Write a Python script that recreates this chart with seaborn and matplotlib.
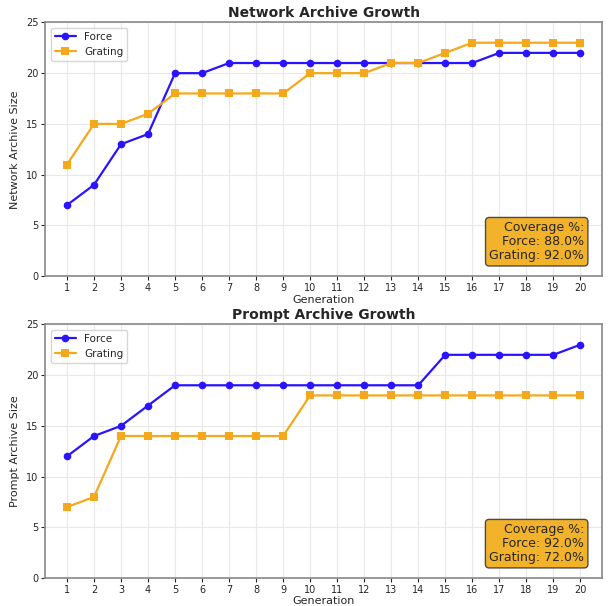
import matplotlib
matplotlib.use("Agg")
import matplotlib.pyplot as plt
import seaborn as sns
import pandas as pd

sns.set_style("whitegrid")
plt.rcParams['font.family'] = ['DejaVu Sans']

generations = list(range(1, 21))
net_force = [7, 9, 13, 14, 20, 20, 21, 21, 21, 21, 21, 21, 21, 21, 21, 21, 22, 22, 22, 22]
net_grating = [11, 15, 15, 16, 18, 18, 18, 18, 18, 20, 20, 20, 21, 21, 22, 23, 23, 23, 23, 23]
prompt_force = [12, 14, 15, 17, 19, 19, 19, 19, 19, 19, 19, 19, 19, 19, 22, 22, 22, 22, 22, 23]
prompt_grating = [7, 8, 14, 14, 14, 14, 14, 14, 14, 18, 18, 18, 18, 18, 18, 18, 18, 18, 18, 18]
titles = ["Network Archive Growth", "Prompt Archive Growth"]
ylabels = ["Network Archive Size", "Prompt Archive Size"]
coverage = [("88.0%", "92.0%"), ("92.0%", "72.0%")]

BLUE = "#2a14ff"
ORANGE = "#f5a81c"

fig, axes = plt.subplots(2, 1, figsize=(6.13, 6.06), dpi=100)
panels = [(net_force, net_grating), (prompt_force, prompt_grating)]
for i, ax in enumerate(axes):
    f, g = panels[i]
    df = pd.DataFrame({"Generation": generations * 2,
                       "Size": f + g,
                       "Method": ["Force"] * 20 + ["Grating"] * 20})
    sns.lineplot(data=df[df.Method == "Force"], x="Generation", y="Size", ax=ax,
                 color=BLUE, marker="o", markersize=5.5, linewidth=1.6,
                 markeredgewidth=0, label="Force")
    sns.lineplot(data=df[df.Method == "Grating"], x="Generation", y="Size", ax=ax,
                 color=ORANGE, marker="s", markersize=5.5, linewidth=1.6,
                 markeredgewidth=0, label="Grating")
    ax.set_title(titles[i], fontsize=10, fontweight="bold", pad=4)
    ax.set_xlabel("Generation", fontsize=8, labelpad=1)
    ax.set_ylabel(ylabels[i], fontsize=8)
    ax.set_ylim(0, 25)
    ax.set_xlim(0.2, 20.8)
    ax.set_xticks(generations)
    ax.set_yticks([0, 5, 10, 15, 20, 25])
    ax.tick_params(labelsize=7, length=3, pad=2)
    ax.tick_params(axis='both', which='both', left=True, bottom=True)
    ax.grid(True, color="#e8e8e8", linewidth=0.8)
    for s in ax.spines.values():
        s.set_color("#888888")
        s.set_linewidth(1.2)
    leg = ax.legend(loc="upper left", fontsize=7.5, frameon=True)
    leg.get_frame().set_edgecolor("#cccccc")
    ax.text(0.968, 0.055,
            f"Coverage %:\nForce: {coverage[i][0]}\nGrating: {coverage[i][1]}",
            transform=ax.transAxes, ha="right", va="bottom", fontsize=9,
            multialignment="right", linespacing=1.1,
            bbox=dict(boxstyle="round,pad=0.3", facecolor="#f2ae1e",
                      edgecolor="#444444", alpha=0.95))

fig.subplots_adjust(left=0.074, right=0.982, top=0.963, bottom=0.046, hspace=0.19)
fig.savefig("out.png", dpi=100)
